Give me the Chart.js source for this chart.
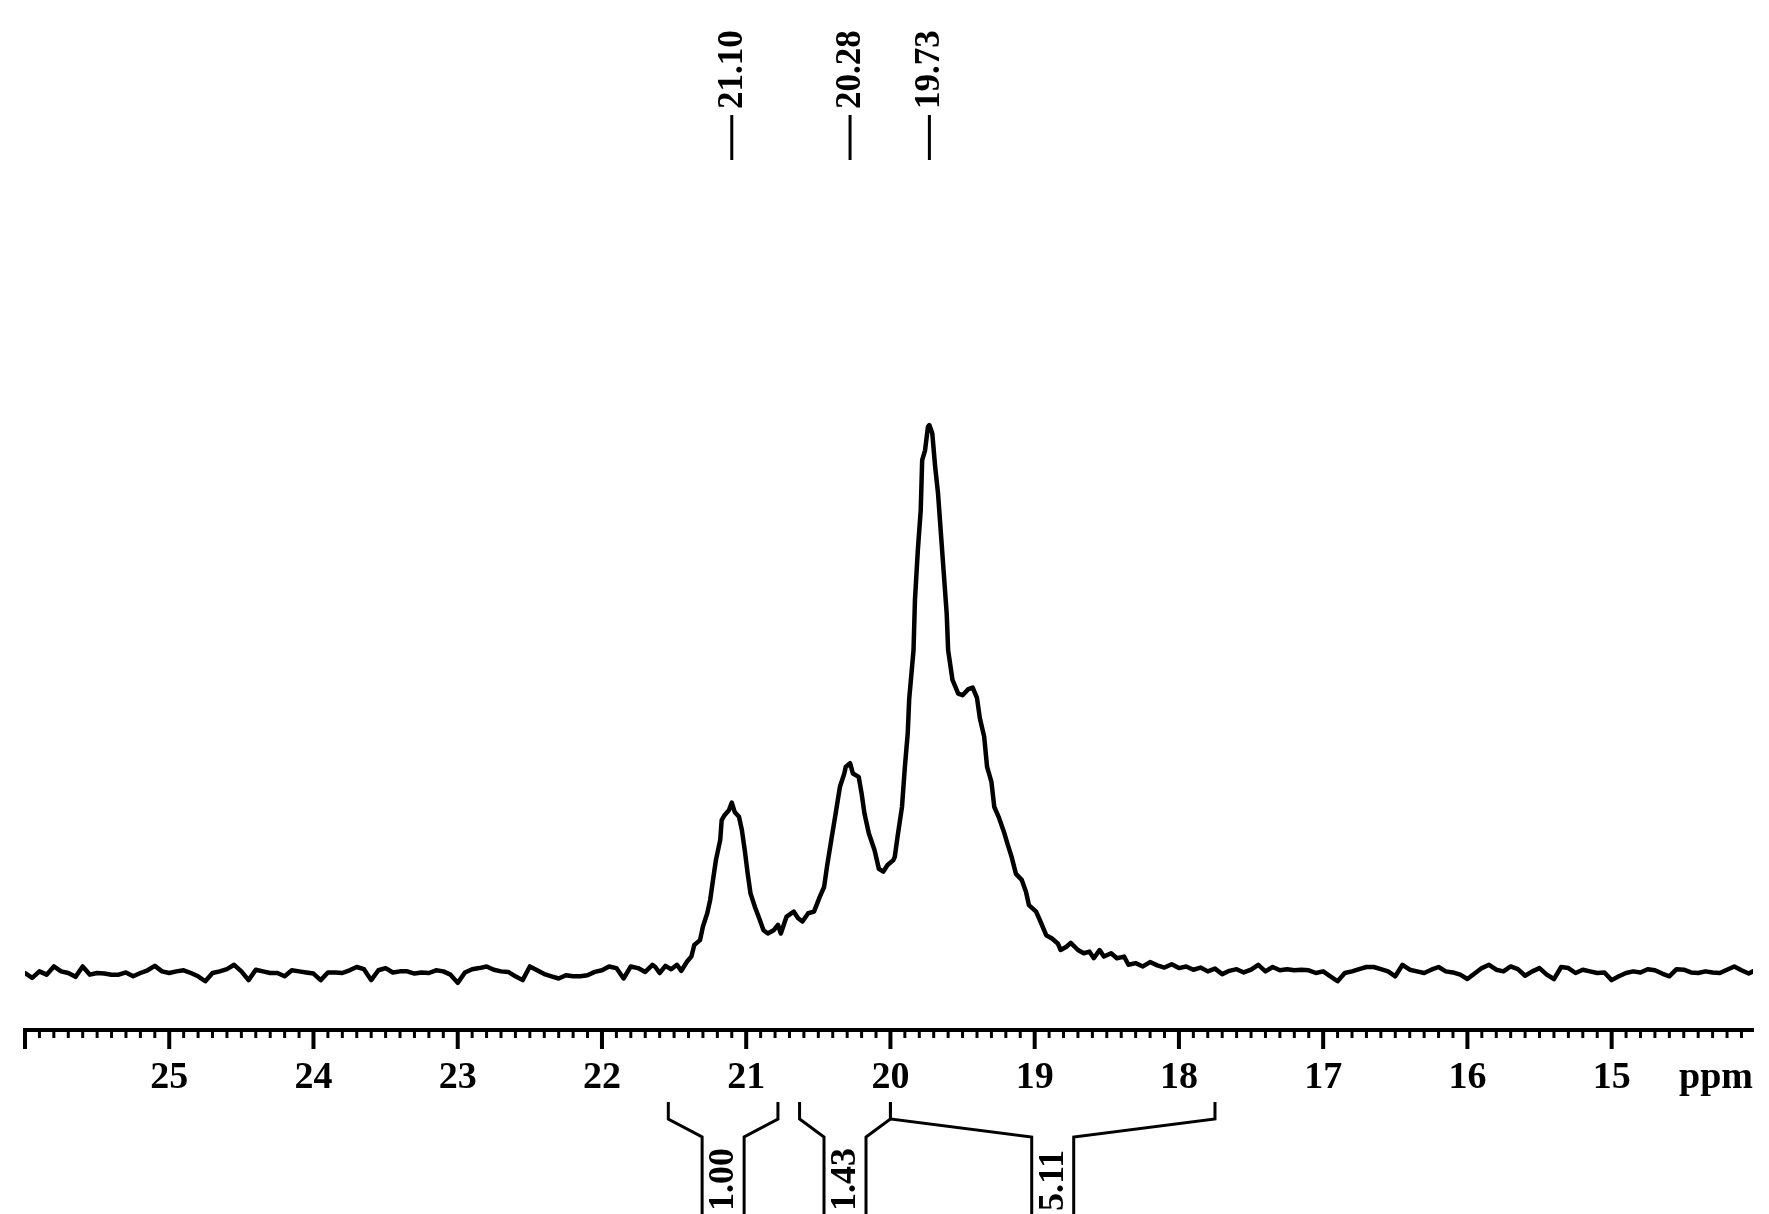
<!DOCTYPE html>
<html>
<head>
<meta charset="utf-8">
<script src="https://cdn.jsdelivr.net/npm/chart.js@4.4.0/dist/chart.umd.min.js"></script>
<style>
  html, body { margin: 0; padding: 0; background: #fff; }
  #wrap { width: 1769px; height: 1214px; }
</style>
</head>
<body>
<div id="wrap"><canvas id="espectro" width="1769" height="1214"></canvas></div>
<script>
const ppm = [
  26.00, 25.95, 25.90, 25.85, 25.80, 25.75, 25.70, 25.65, 25.60, 25.55,
  25.50, 25.45, 25.40, 25.35, 25.30, 25.25, 25.20, 25.15, 25.10, 25.05,
  25.00, 24.95, 24.90, 24.85, 24.80, 24.75, 24.70, 24.65, 24.60, 24.55,
  24.50, 24.45, 24.40, 24.35, 24.30, 24.25, 24.20, 24.15, 24.10, 24.05,
  24.00, 23.95, 23.90, 23.85, 23.80, 23.75, 23.70, 23.65, 23.60, 23.55,
  23.50, 23.45, 23.40, 23.35, 23.30, 23.25, 23.20, 23.15, 23.10, 23.05,
  23.00, 22.95, 22.90, 22.85, 22.80, 22.75, 22.70, 22.65, 22.60, 22.55,
  22.50, 22.45, 22.40, 22.35, 22.30, 22.25, 22.20, 22.15, 22.10, 22.05,
  22.00, 21.95, 21.90, 21.85, 21.80, 21.75, 21.70, 21.65,
  21.63, 21.60, 21.56, 21.52, 21.48, 21.45, 21.41, 21.38, 21.36, 21.32,
  21.30, 21.27, 21.25, 21.23, 21.21, 21.18, 21.17, 21.15, 21.12, 21.10,
  21.08, 21.05, 21.03, 21.01, 20.99, 20.97, 20.94, 20.91, 20.88, 20.85,
  20.81, 20.78, 20.76, 20.72, 20.67, 20.64, 20.61, 20.57, 20.53, 20.49,
  20.46, 20.44, 20.41, 20.38, 20.35, 20.32, 20.31, 20.28, 20.26, 20.22,
  20.20, 20.18, 20.15, 20.11, 20.08, 20.05, 20.02, 19.98, 19.97, 19.95,
  19.92, 19.90, 19.88, 19.87, 19.84, 19.83, 19.81, 19.79, 19.78, 19.76,
  19.74, 19.73, 19.71, 19.69, 19.67, 19.65, 19.63, 19.61, 19.60, 19.57,
  19.53, 19.50, 19.46, 19.43, 19.40, 19.38, 19.35, 19.33, 19.30, 19.28,
  19.25, 19.21, 19.19, 19.16, 19.13, 19.09, 19.06, 19.04, 18.99, 18.96,
  18.92, 18.88, 18.84, 18.82, 18.78, 18.75, 18.70, 18.66, 18.62, 18.59,
  18.55, 18.52, 18.47, 18.43, 18.38, 18.35,
  18.30, 18.25, 18.20, 18.15, 18.10, 18.05, 18.00, 17.95, 17.90, 17.85,
  17.80, 17.75, 17.70, 17.65, 17.60, 17.55, 17.50, 17.45, 17.40, 17.35,
  17.30, 17.25, 17.20, 17.15, 17.10, 17.05, 17.00, 16.95, 16.90, 16.85,
  16.80, 16.75, 16.70, 16.65, 16.60, 16.55, 16.50, 16.45, 16.40, 16.35,
  16.30, 16.25, 16.20, 16.15, 16.10, 16.05, 16.00, 15.95, 15.90, 15.85,
  15.80, 15.75, 15.70, 15.65, 15.60, 15.55, 15.50, 15.45, 15.40, 15.35,
  15.30, 15.25, 15.20, 15.15, 15.10, 15.05, 15.00, 14.95, 14.90, 14.85,
  14.80, 14.75, 14.70, 14.65, 14.60, 14.55, 14.50, 14.45, 14.40, 14.35,
  14.30, 14.25, 14.20, 14.15, 14.10, 14.05, 14.02
];
const intensidade = [
  0.0, -0.9, 0.3, -0.3, 1.2, 0.3, 0.0, -0.7, 1.2, -0.3,
  0.0, -0.1, -0.3, -0.3, 0.1, -0.6, 0.0, 0.5, 1.3, 0.3,
  0.0, 0.3, 0.5, 0.0, -0.6, -1.5, 0.0, 0.3, 0.7, 1.5,
  0.3, -1.3, 0.6, 0.3, 0.0, 0.0, -0.6, 0.5, 0.3, 0.1,
  -0.1, -1.3, 0.1, 0.1, 0.0, 0.5, 1.1, 0.7, -1.3, 0.5,
  0.9, 0.1, 0.3, 0.3, -0.1, 0.1, 0.0, 0.5, 0.3, -0.3,
  -1.8, 0.1, 0.7, 0.9, 1.2, 0.6, 0.3, 0.2, -0.6, -1.3,
  1.2, 0.5, -0.2, -0.6, -1.0, -0.4, -0.6, -0.6, -0.4, 0.2,
  0.5, 1.2, 0.9, -1.0, 1.2, 0.9, 0.2, 1.5,
  1.1, 0.0, 1.3, 0.7, 1.5, 0.4, 2.1, 3.0, 5.1, 6.0,
  8.5, 10.9, 13.3, 17.0, 20.6, 24.3, 27.9, 28.8, 29.7, 31.1,
  29.4, 28.5, 26.1, 22.4, 18.2, 14.5, 12.1, 10.0, 7.8, 7.2,
  7.8, 8.8, 7.2, 10.3, 11.2, 10.0, 9.4, 10.9, 11.2, 13.9,
  15.7, 19.4, 24.3, 29.1, 34.0, 36.4, 37.6, 38.3, 36.4, 35.8,
  32.8, 29.1, 25.5, 22.4, 19.0, 18.5, 19.7, 20.6, 21.2, 25.0,
  30.3, 37.6, 43.8, 50.0, 58.9, 68.1, 77.2, 84.5, 93.6, 95.4,
  99.7, 100.0, 98.5, 92.4, 87.5, 80.2, 72.9, 65.6, 58.9, 53.5,
  51.0, 50.7, 51.8, 52.1, 50.2, 46.5, 43.1, 37.6, 34.9, 30.3,
  28.5, 25.5, 23.7, 21.2, 18.1, 17.0, 14.8, 12.4, 11.2, 9.4,
  6.9, 6.3, 5.4, 4.2, 4.8, 5.5, 4.2, 3.6, 3.9, 2.7,
  4.2, 3.0, 3.6, 2.7, 3.0, 1.5,
  1.8, 1.2, 2.0, 1.4, 1.0, 1.6, 0.9, 1.2, 0.6, 1.0,
  0.3, 0.8, -0.2, 0.4, 0.7, 0.1, 0.6, 1.5, 0.3, 1.1,
  0.5, 0.7, 0.5, 0.6, 0.5, 0.0, 0.3, -0.6, -1.5, 0.0,
  0.3, 0.7, 1.1, 1.1, 0.7, 0.3, -0.6, 1.5, 0.6, 0.3,
  0.0, 0.6, 1.1, 0.3, 0.1, -0.3, -1.1, -0.1, 0.9, 1.5,
  0.6, 0.3, 1.2, 0.7, -0.5, 0.3, 0.9, -0.3, -1.1, 1.1,
  0.9, 0.0, 0.6, 0.3, 0.0, 0.1, -1.3, -0.6, 0.0, 0.3,
  0.1, 0.7, 0.5, -0.1, -0.6, 0.7, 0.6, 0.1, 0.0, 0.3,
  0.1, 0.0, 0.6, 1.2, 0.5, -0.1, 0.3
];

const rotulosEixo = [15, 16, 17, 18, 19, 20, 21, 22, 23, 24, 25];
const picos = [21.10, 20.28, 19.73];
const rotulosPicos = ['21.10', '20.28', '19.73'];
const integralInicio = [21.54, 20.63, 20.00];
const integralFim = [20.78, 20.00, 17.75];
const integralValores = ['1.00', '1.43', '5.11'];

const fonte = '"Liberation Serif", "Times New Roman", serif';

const desenhos = {
  id: 'desenhos',
  afterDraw(chart) {
    const ctx = chart.ctx;
    const x = chart.scales.x;
    const base = chart.chartArea.bottom;
    ctx.save();
    ctx.strokeStyle = '#000';
    ctx.fillStyle = '#000';

    // marcas do eixo (0.1 ppm)
    for (let i = 0; i <= 120; i++) {
      const v = 14 + i / 10;
      if (v < x.min - 1e-6 || v > x.max + 1e-6) continue;
      const px = x.getPixelForValue(v);
      const maior = i % 10 === 0;
      ctx.lineWidth = maior ? 4 : 3;
      ctx.beginPath();
      ctx.moveTo(px, base);
      ctx.lineTo(px, base + (maior ? 19 : 8));
      ctx.stroke();
    }

    ctx.font = 'bold 38px ' + fonte;
    ctx.textAlign = 'right';
    ctx.textBaseline = 'middle';
    ctx.fillText('ppm', chart.chartArea.right, base + 48);

    // picos
    ctx.font = 'bold 35px ' + fonte;
    picos.forEach((p, i) => {
      const px = x.getPixelForValue(p);
      ctx.lineWidth = 3;
      ctx.beginPath();
      ctx.moveTo(px, 115);
      ctx.lineTo(px, 160);
      ctx.stroke();
      ctx.save();
      ctx.translate(px, 109);
      ctx.rotate(-Math.PI / 2);
      ctx.textAlign = 'left';
      ctx.textBaseline = 'middle';
      ctx.fillText(rotulosPicos[i], 0, 1);
      ctx.restore();
    });

    // integrais
    ctx.font = 'bold 36px ' + fonte;
    ctx.lineWidth = 3;
    integralValores.forEach((val, i) => {
      const xa = x.getPixelForValue(integralInicio[i]);
      const xb = x.getPixelForValue(integralFim[i]);
      const c = (xa + xb) / 2;
      ctx.beginPath();
      ctx.moveTo(xa, base + 72);
      ctx.lineTo(xa, base + 89);
      ctx.lineTo(c - 21, base + 107);
      ctx.lineTo(c - 21, chart.height);
      ctx.moveTo(xb, base + 72);
      ctx.lineTo(xb, base + 89);
      ctx.lineTo(c + 21, base + 107);
      ctx.lineTo(c + 21, chart.height);
      ctx.stroke();
      ctx.save();
      ctx.translate(c, chart.height - 3);
      ctx.rotate(-Math.PI / 2);
      ctx.textAlign = 'left';
      ctx.textBaseline = 'middle';
      ctx.fillText(val, 0, 1);
      ctx.restore();
    });
    ctx.restore();
  }
};

const pontos = ppm.map((v, i) => ({ x: v, y: intensidade[i] }));

new Chart(document.getElementById('espectro'), {
  type: 'line',
  data: {
    datasets: [{
      data: pontos,
      borderColor: '#000',
      borderWidth: 4.5,
      borderJoinStyle: 'round',
      borderCapStyle: 'round',
      pointRadius: 0,
      tension: 0,
      fill: false
    }]
  },
  options: {
    responsive: false,
    animation: false,
    layout: { padding: { left: 12, right: 16, top: 150, bottom: 0 } },
    plugins: { legend: { display: false }, tooltip: { enabled: false } },
    scales: {
      x: {
        type: 'linear',
        reverse: true,
        min: 14.02,
        max: 26,
        grid: { display: false, drawTicks: false },
        border: { display: true, color: '#000', width: 4 },
        ticks: {
          stepSize: 1,
          autoSkip: false,
          maxRotation: 0,
          includeBounds: false,
          padding: 25,
          color: '#000',
          font: { family: fonte, weight: 'bold', size: 38 },
          callback: (v) => rotulosEixo.includes(v) ? String(v) : ''
        },
        afterFit: (scale) => { scale.height = 184; }
      },
      y: {
        display: false,
        min: -10.4,
        max: 150.2
      }
    }
  },
  plugins: [desenhos]
});
</script>
</body>
</html>
